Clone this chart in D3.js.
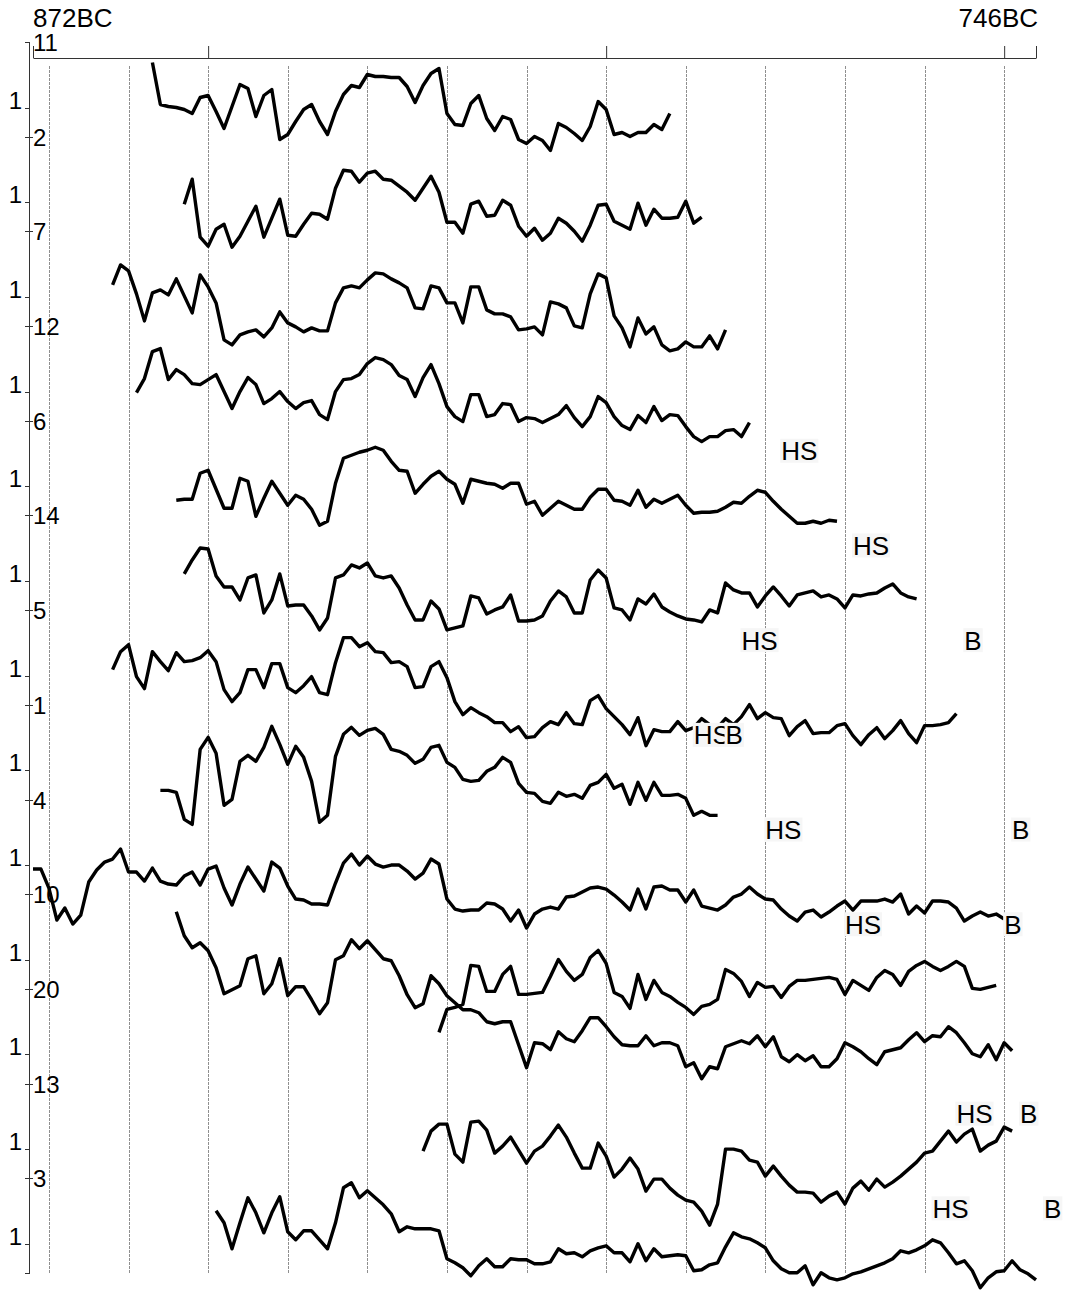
<!DOCTYPE html>
<html>
<head>
<meta charset="utf-8">
<script src="https://cdn.jsdelivr.net/npm/d3@7"></script>
<style>
  body { margin: 0; background: #fff; }
  svg { display: block; font-family: "Liberation Sans", Arial, sans-serif; }
</style>
</head>
<body>
<div id="chart"></div>
<script>
// series ids, top row to bottom row
const seriesIds = ["11", "2", "7", "12", "6", "14", "5", "1", "4", "10", "20", "13", "3"];
// year of first ring for each row (negative = BC)
const startYears = [-857, -853, -862, -859, -854, -853, -862, -856, -872, -854, -821, -823, -849];

// ring width indices, one value per year
const s11 = [1.225,1.015,1.005,1.0,0.99,0.97,1.05,1.06,0.98,0.895,1.005,1.115,1.095,0.955,1.06,1.09,0.84,0.865,0.93,0.99,1.015,0.93,0.865,0.98,1.065,1.11,1.10,1.165,1.155,1.155,1.15,1.15,1.105,1.025,1.11,1.17,1.195,0.97,0.915,0.91,1.02,1.06,0.945,0.885,0.955,0.94,0.84,0.82,0.855,0.835,0.785,0.92,0.90,0.87,0.835,0.905,1.03,0.99,0.865,0.875,0.855,0.875,0.875,0.915,0.89,0.97];
const s2 = [0.99,1.115,0.825,0.78,0.865,0.89,0.775,0.83,0.905,0.98,0.825,0.92,1.015,0.835,0.83,0.89,0.945,0.94,0.915,1.07,1.16,1.155,1.10,1.145,1.155,1.115,1.11,1.08,1.05,1.01,1.07,1.13,1.05,0.90,0.90,0.845,0.99,1.005,0.93,0.935,1.01,0.985,0.88,0.83,0.87,0.81,0.845,0.92,0.895,0.855,0.805,0.885,0.985,0.99,0.905,0.885,0.865,0.995,0.885,0.965,0.92,0.92,0.925,1.005,0.895,0.925];
const s7 = [1.06,1.16,1.13,1.015,0.88,1.02,1.035,1.01,1.09,1.005,0.92,1.11,1.05,0.97,0.785,0.76,0.81,0.825,0.835,0.80,0.845,0.925,0.87,0.85,0.825,0.845,0.83,0.83,0.97,1.045,1.055,1.045,1.085,1.12,1.115,1.09,1.07,1.045,0.945,0.94,1.055,1.045,0.97,0.97,0.87,1.05,1.05,0.935,0.915,0.915,0.90,0.835,0.84,0.85,0.81,0.975,0.965,0.945,0.855,0.845,1.015,1.115,1.095,0.905,0.845,0.75,0.895,0.815,0.85,0.76,0.73,0.74,0.775,0.75,0.75,0.805,0.74,0.835];
const s12 = [0.995,1.065,1.20,1.215,1.06,1.11,1.085,1.04,1.035,1.06,1.085,1.00,0.915,1.00,1.07,1.035,0.94,0.965,1.00,0.95,0.915,0.945,0.955,0.885,0.86,1.00,1.06,1.065,1.085,1.14,1.17,1.16,1.135,1.08,1.06,0.975,1.07,1.135,1.04,0.925,0.875,0.85,0.985,0.985,0.875,0.885,0.94,0.935,0.85,0.87,0.865,0.845,0.865,0.885,0.93,0.87,0.825,0.875,0.975,0.945,0.875,0.83,0.81,0.88,0.845,0.925,0.855,0.885,0.88,0.825,0.775,0.75,0.775,0.775,0.805,0.81,0.775,0.845];
const s6 = [0.93,0.935,0.935,1.065,1.08,0.985,0.89,0.89,1.04,1.025,0.85,0.94,1.025,0.965,0.905,0.955,0.935,0.885,0.805,0.825,1.015,1.14,1.155,1.17,1.18,1.195,1.18,1.125,1.08,1.075,0.965,1.01,1.05,1.075,1.035,1.01,0.915,1.035,1.025,1.015,1.01,0.99,1.015,1.015,0.91,0.925,0.855,0.89,0.925,0.905,0.885,0.885,0.945,0.985,0.985,0.93,0.925,0.905,0.98,0.895,0.935,0.915,0.935,0.955,0.905,0.865,0.87,0.87,0.875,0.895,0.92,0.915,0.95,0.98,0.97,0.925,0.885,0.85,0.815,0.815,0.825,0.815,0.83,0.825];
const s14 = [1.035,1.105,1.165,1.16,1.025,0.97,0.97,0.905,1.015,1.03,0.84,0.905,1.035,0.875,0.88,0.88,0.825,0.755,0.815,1.015,1.03,1.08,1.065,1.09,1.025,1.015,1.025,0.965,0.88,0.805,0.805,0.90,0.86,0.755,0.765,0.775,0.925,0.915,0.835,0.855,0.87,0.93,0.80,0.80,0.805,0.825,0.90,0.95,0.92,0.84,0.84,1.005,1.055,1.015,0.865,0.855,0.805,0.91,0.885,0.935,0.87,0.845,0.825,0.81,0.805,0.795,0.855,0.84,0.99,0.955,0.94,0.94,0.87,0.925,0.97,0.925,0.875,0.93,0.94,0.95,0.92,0.93,0.91,0.865,0.93,0.925,0.935,0.94,0.965,0.985,0.94,0.92,0.91];
const s5 = [1.03,1.12,1.155,0.995,0.935,1.12,1.07,1.025,1.115,1.07,1.075,1.09,1.125,1.07,0.93,0.87,0.915,1.03,1.03,0.94,1.06,1.06,0.94,0.915,0.95,0.995,0.915,0.905,1.065,1.19,1.19,1.145,1.165,1.12,1.115,1.065,1.07,1.045,0.94,0.945,1.045,1.07,0.99,0.87,0.805,0.84,0.815,0.795,0.765,0.765,0.72,0.745,0.69,0.695,0.74,0.77,0.755,0.815,0.76,0.755,0.875,0.90,0.835,0.795,0.755,0.705,0.79,0.65,0.73,0.72,0.72,0.77,0.725,0.74,0.785,0.755,0.74,0.785,0.755,0.795,0.855,0.785,0.815,0.79,0.785,0.70,0.745,0.775,0.71,0.715,0.715,0.75,0.76,0.70,0.655,0.705,0.74,0.685,0.725,0.775,0.71,0.665,0.75,0.75,0.755,0.765,0.81];
const s1 = [0.90,0.90,0.89,0.755,0.73,1.105,1.165,1.085,0.825,0.855,1.045,1.075,1.045,1.115,1.22,1.13,1.03,1.12,1.065,0.945,0.74,0.775,1.07,1.18,1.215,1.175,1.20,1.21,1.18,1.105,1.095,1.075,1.035,1.055,1.115,1.125,1.04,1.015,0.955,0.945,0.95,0.995,1.015,1.065,1.04,0.935,0.89,0.885,0.845,0.835,0.89,0.87,0.88,0.86,0.925,0.94,0.98,0.91,0.93,0.83,0.94,0.85,0.94,0.875,0.875,0.88,0.86,0.775,0.795,0.775,0.775];
const s4 = [0.98,0.98,0.885,0.725,0.785,0.705,0.75,0.915,0.975,1.015,1.03,1.08,0.965,0.965,0.92,0.985,0.92,0.905,0.90,0.945,0.965,0.90,0.98,0.995,0.885,0.80,0.905,0.99,0.93,0.87,1.015,0.985,0.895,0.83,0.825,0.805,0.805,0.80,0.91,1.01,1.055,1.00,1.045,1.005,0.99,1.00,1.00,0.97,0.93,0.96,1.03,1.005,0.83,0.78,0.77,0.775,0.775,0.81,0.805,0.78,0.72,0.775,0.685,0.755,0.78,0.79,0.78,0.84,0.845,0.865,0.885,0.89,0.88,0.85,0.815,0.775,0.88,0.78,0.89,0.895,0.875,0.875,0.815,0.875,0.795,0.785,0.775,0.80,0.84,0.855,0.89,0.855,0.83,0.825,0.78,0.745,0.72,0.765,0.775,0.74,0.765,0.795,0.82,0.775,0.82,0.82,0.82,0.83,0.815,0.855,0.755,0.795,0.76,0.82,0.82,0.815,0.785,0.72,0.745,0.765,0.745,0.755,0.73];
const s10 = [1.24,1.12,1.06,1.085,1.045,0.96,0.83,0.85,0.87,1.005,1.02,0.83,0.88,1.005,0.82,0.865,0.865,0.80,0.73,0.785,1.00,1.02,1.10,1.055,1.095,1.05,1.005,0.995,0.92,0.825,0.76,0.78,0.92,0.88,0.82,0.785,0.75,0.75,0.735,0.69,0.68,0.69,0.69,0.575,0.46,0.585,0.58,0.55,0.64,0.605,0.59,0.645,0.71,0.71,0.665,0.615,0.575,0.57,0.57,0.62,0.57,0.585,0.585,0.57,0.465,0.485,0.405,0.465,0.455,0.565,0.58,0.595,0.58,0.62,0.565,0.615,0.515,0.49,0.525,0.495,0.52,0.465,0.465,0.505,0.585,0.565,0.54,0.505,0.475,0.54,0.55,0.56,0.60,0.635,0.59,0.62,0.615,0.665,0.635,0.585,0.53,0.515,0.575,0.50,0.585,0.545];
const s20 = [1.11,1.225,1.235,1.25,1.445,1.44,1.315,1.315,1.40,1.44,1.30,1.30,1.305,1.31,1.39,1.475,1.415,1.37,1.40,1.485,1.52,1.455,1.31,1.29,1.23,1.40,1.275,1.37,1.31,1.29,1.26,1.235,1.20,1.24,1.25,1.275,1.425,1.405,1.365,1.29,1.36,1.335,1.34,1.285,1.34,1.37,1.37,1.375,1.38,1.385,1.375,1.30,1.37,1.345,1.32,1.385,1.42,1.40,1.345,1.415,1.445,1.465,1.44,1.42,1.44,1.465,1.44,1.33,1.325,1.335,1.345];
const s13 = [0.99,1.09,1.125,1.125,0.975,0.935,1.135,1.14,1.095,0.98,1.015,1.06,0.995,0.93,0.99,1.015,1.065,1.12,1.06,0.98,0.905,0.905,1.03,0.965,0.86,0.90,0.955,0.90,0.79,0.85,0.85,0.805,0.77,0.745,0.735,0.69,0.62,0.725,1.00,1.00,0.99,0.945,0.935,0.865,0.915,0.865,0.82,0.785,0.785,0.78,0.735,0.765,0.785,0.725,0.805,0.84,0.795,0.85,0.81,0.835,0.865,0.90,0.935,0.98,0.99,1.04,1.09,1.035,1.075,1.10,0.99,1.02,1.04,1.11,1.09];
const s3 = [1.165,1.105,0.975,1.105,1.23,1.155,1.055,1.155,1.235,1.06,1.02,1.065,1.065,1.02,0.975,1.105,1.28,1.305,1.23,1.265,1.23,1.195,1.15,1.06,1.085,1.075,1.075,1.075,1.065,0.925,0.905,0.88,0.84,0.89,0.925,0.885,0.885,0.925,0.92,0.92,0.90,0.90,0.91,0.975,0.95,0.955,0.935,0.965,0.98,0.99,0.955,0.955,0.91,1.00,0.915,0.975,0.935,0.94,0.945,0.94,0.865,0.87,0.895,0.905,0.985,1.055,1.035,1.025,1.005,0.98,0.915,0.875,0.855,0.855,0.89,0.795,0.855,0.83,0.82,0.83,0.85,0.86,0.875,0.89,0.905,0.925,0.965,0.955,0.97,0.99,1.02,1.005,0.955,0.90,0.915,0.865,0.78,0.83,0.86,0.865,0.915,0.87,0.85,0.82];

const seriesValues = [s11, s2, s7, s12, s6, s14, s5, s1, s4, s10, s20, s13, s3];

// heartwood/sapwood boundary (HS) and bark (B) marks : [row, year]
const hsMarks = [[4, -778], [5, -769], [6, -783], [7, -789], [8, -780], [9, -770], [11, -756], [12, -759]];
const barkMarks = [[6, -755], [7, -785], [8, -749], [9, -750], [11, -748], [12, -745]];

const gridYears = d3.range(-870, -749, 10);
const axisTicks = [-872, -850, -800, -750, -746];
const axisLabels = ["872BC", "746BC"];

const width = 1066, height = 1295;

const svg = d3.select("#chart")
  .append("svg")
  .attr("width", width)
  .attr("height", height);

// x = calendar year
const x = d3.scaleLinear().domain([-872, -746]).range([33, 1036]);
// one row per series
const rowTop = d3.scaleLinear().domain([0, seriesIds.length]).range([42, 1273]);
const oneOffset = 65.5;
function yFor(row) {
  const base = rowTop(row) + oneOffset;
  return d3.scaleLinear().domain([1, 1.5]).range([base, base - 100]);
}
const crisp = (v) => Math.round(v) + 0.5;

// decade grid
svg.append("g")
  .selectAll("line")
  .data(gridYears)
  .join("line")
  .attr("x1", (d) => crisp(x(d)))
  .attr("x2", (d) => crisp(x(d)))
  .attr("y1", 66)
  .attr("y2", rowTop(seriesIds.length))
  .attr("stroke", "#8f8f8f")
  .attr("stroke-width", 1)
  .attr("stroke-dasharray", "3,1");

// top time axis
svg.append("g")
  .attr("transform", "translate(0,58)")
  .call(d3.axisTop(x).tickValues(axisTicks).tickSize(12).tickSizeOuter(0).tickFormat(""))
  .call((g) => g.select(".domain").attr("stroke", "#333"))
  .call((g) => g.selectAll(".tick line").attr("stroke", "#333"));

svg.append("text")
  .attr("x", x(-872))
  .attr("y", 27)
  .attr("font-size", 26)
  .text(axisLabels[0]);
svg.append("text")
  .attr("x", x(-746) + 2)
  .attr("y", 27)
  .attr("text-anchor", "end")
  .attr("font-size", 26)
  .text(axisLabels[1]);

// left axis with row ticks
const left = svg.append("g").attr("stroke", "#333").attr("stroke-width", 1);
left.append("line")
  .attr("x1", 29.5).attr("x2", 29.5)
  .attr("y1", rowTop(0)).attr("y2", rowTop(seriesIds.length));
left.selectAll(".rowtick")
  .data(d3.range(seriesIds.length + 1))
  .join("line")
  .attr("class", "rowtick")
  .attr("x1", 25).attr("x2", (d) => (d === 0 || d === seriesIds.length ? 30 : 33))
  .attr("y1", (d) => crisp(rowTop(d)))
  .attr("y2", (d) => crisp(rowTop(d)));
left.selectAll(".onetick")
  .data(d3.range(seriesIds.length))
  .join("line")
  .attr("class", "onetick")
  .attr("x1", 25).attr("x2", 30)
  .attr("y1", (d) => crisp(yFor(d)(1)))
  .attr("y2", (d) => crisp(yFor(d)(1)));

svg.append("g")
  .selectAll("text")
  .data(d3.range(seriesIds.length))
  .join("text")
  .attr("x", 22)
  .attr("y", (d) => yFor(d)(1) + 1)
  .attr("text-anchor", "end")
  .attr("font-size", 24)
  .text("1");

svg.append("g")
  .selectAll("text")
  .data(seriesIds)
  .join("text")
  .attr("x", 33)
  .attr("y", (d, i) => rowTop(i) + 9)
  .attr("font-size", 24)
  .text((d) => d);

// ring width curves
seriesValues.forEach((vals, i) => {
  const y = yFor(i);
  const line = d3.line()
    .x((d, j) => x(startYears[i] + j))
    .y((d) => y(d));
  svg.append("path")
    .datum(vals)
    .attr("d", line)
    .attr("fill", "none")
    .attr("stroke", "#000")
    .attr("stroke-width", 3.4)
    .attr("stroke-linejoin", "round");
});

// HS / B marks, drawn on a light box over the curves
function drawMark(row, year, txt) {
  const g = svg.append("g");
  const cy = rowTop(row) + 30;
  const t = g.append("text")
    .attr("x", x(year))
    .attr("y", cy + 9.5)
    .attr("font-size", 26)
    .text(txt);
  const w = t.node().getComputedTextLength();
  g.insert("rect", "text")
    .attr("x", x(year) - 1)
    .attr("y", cy - 12)
    .attr("width", w + 2)
    .attr("height", 24)
    .attr("fill", "#f6f6f6");
}
hsMarks.forEach(([row, year]) => drawMark(row, year, "HS"));
barkMarks.forEach(([row, year]) => drawMark(row, year, "B"));
</script>
</body>
</html>
